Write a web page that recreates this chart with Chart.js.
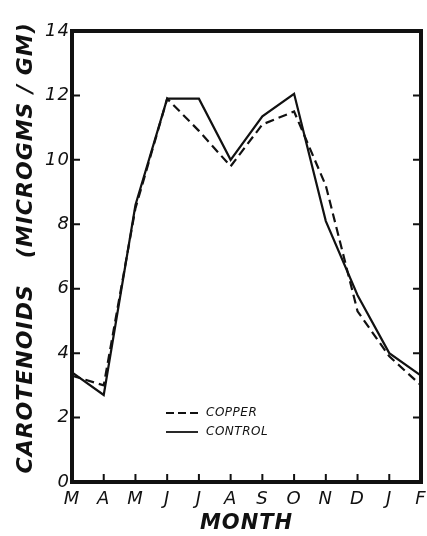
<!DOCTYPE html>
<html>
<head>
<meta charset="utf-8">
<script src="https://cdn.jsdelivr.net/npm/chart.js@4"></script>
<style>
  html, body { margin: 0; padding: 0; background: #fff; }
  #wrap { width: 427px; height: 536px; }
</style>
</head>
<body>
<div id="wrap"><canvas id="carotene"></canvas></div>
<script>
// monthly carotenoid content, March through February
const months = ['M', 'A', 'M', 'J', 'J', 'A', 'S', 'O', 'N', 'D', 'J', 'F'];
const copper = [3.3, 3.0, 8.5, 11.9, 10.9, 9.8, 11.1, 11.5, 9.2, 5.3, 3.9, 3.0];
const control = [3.4, 2.7, 8.6, 11.9, 11.9, 10.0, 11.35, 12.05, 8.1, 5.8, 4.0, 3.3];
const yTicks = [0, 2, 4, 6, 8, 10, 12, 14];

const ink = '#111';
const FONT = '"DejaVu Sans", sans-serif';

// lettering on the axes is spaced out a little
const spacingPlugin = {
    id: 'spacing',
    beforeDraw(chart){ chart.ctx.letterSpacing = '1px'; },
    beforeDatasetsDraw(chart){ chart.ctx.letterSpacing = '0px'; }
};

// heavy box round the plot with short ticks pointing inward
const framePlugin = {
    id: 'frame',
    afterDatasetsDraw(chart){
        const {ctx, chartArea: a, scales} = chart;
        ctx.save();
        ctx.strokeStyle = ink;
        ctx.lineWidth = 4;
        ctx.lineCap = 'square';
        ctx.strokeRect(a.left, a.top, a.right - a.left, a.bottom - a.top);

        ctx.lineWidth = 2;
        ctx.lineCap = 'butt';
        ctx.beginPath();
        yTicks.forEach(v => {
            if(v === 0 || v === 14) return;
            const y = scales.y.getPixelForValue(v);
            ctx.moveTo(a.left, y); ctx.lineTo(a.left + 8, y);
            ctx.moveTo(a.right, y); ctx.lineTo(a.right - 8, y);
        });
        months.forEach((m, i) => {
            if(i === 0 || i === months.length - 1) return;
            const x = scales.x.getPixelForValue(i);
            ctx.moveTo(x, a.bottom); ctx.lineTo(x, a.bottom - 8);
        });
        ctx.stroke();
        ctx.restore();
    }
};

// small key inside the plot
const keyPlugin = {
    id: 'key',
    afterDatasetsDraw(chart){
        const {ctx, chartArea: a} = chart;
        ctx.save();
        ctx.font = 'italic 12px ' + FONT;
        ctx.letterSpacing = '0.5px';
        ctx.fillStyle = ink;
        ctx.textBaseline = 'middle';
        chart.data.datasets.forEach((ds, i) => {
            const y = a.bottom - 69 + i * 19;
            const x0 = a.left + 94;
            ctx.beginPath();
            ctx.setLineDash(ds.borderDash ? [8, 4] : []);
            ctx.strokeStyle = ink;
            ctx.lineWidth = 1.8;
            ctx.moveTo(x0, y); ctx.lineTo(x0 + 32, y);
            ctx.stroke();
            ctx.setLineDash([]);
            ctx.fillText(ds.label, x0 + 40, y);
        });
        ctx.restore();
    }
};

new Chart(document.getElementById('carotene'), {
    type: 'line',
    data: {
        labels: months,
        datasets: [
            {
                label: 'COPPER',
                data: copper,
                borderColor: ink,
                borderWidth: 2.2,
                borderDash: [9, 5],
                pointRadius: 0,
                tension: 0
            },
            {
                label: 'CONTROL',
                data: control,
                borderColor: ink,
                borderWidth: 2.2,
                pointRadius: 0,
                tension: 0
            }
        ]
    },
    options: {
        responsive: true,
        maintainAspectRatio: false,
        animation: false,
        layout: { padding: { top: 31, right: 6, left: 0, bottom: 0 } },
        plugins: {
            legend: { display: false },
            tooltip: { enabled: false }
        },
        scales: {
            x: {
                offset: false,
                grid: { display: false, drawTicks: false },
                border: { display: false },
                ticks: {
                    color: ink,
                    padding: 7,
                    maxRotation: 0,
                    autoSkip: false,
                    font: { family: FONT, size: 18, style: 'italic' }
                },
                title: {
                    display: true,
                    text: 'MONTH',
                    color: ink,
                    padding: { top: 0, bottom: 0 },
                    font: { family: FONT, size: 21, style: 'italic', weight: 'bold' }
                },
                afterFit(scale){
                    scale.height = 54;
                    scale.paddingLeft = 0;
                    scale.paddingRight = 0;
                }
            },
            y: {
                min: 0,
                max: 14,
                grid: { display: false, drawTicks: false },
                border: { display: false },
                ticks: {
                    color: ink,
                    padding: 2,
                    stepSize: 2,
                    font: { family: FONT, size: 18, style: 'italic' }
                },
                title: {
                    display: true,
                    text: '  CAROTENOIDS   (MICROGMS / GM)',
                    color: ink,
                    padding: { top: 13, bottom: 0 },
                    font: { family: FONT, size: 22, style: 'italic', weight: 'bold' }
                },
                afterFit(scale){
                    scale.width = 72;
                    scale.paddingTop = 0;
                    scale.paddingBottom = 0;
                }
            }
        }
    },
    plugins: [spacingPlugin, framePlugin, keyPlugin]
});
</script>
</body>
</html>
